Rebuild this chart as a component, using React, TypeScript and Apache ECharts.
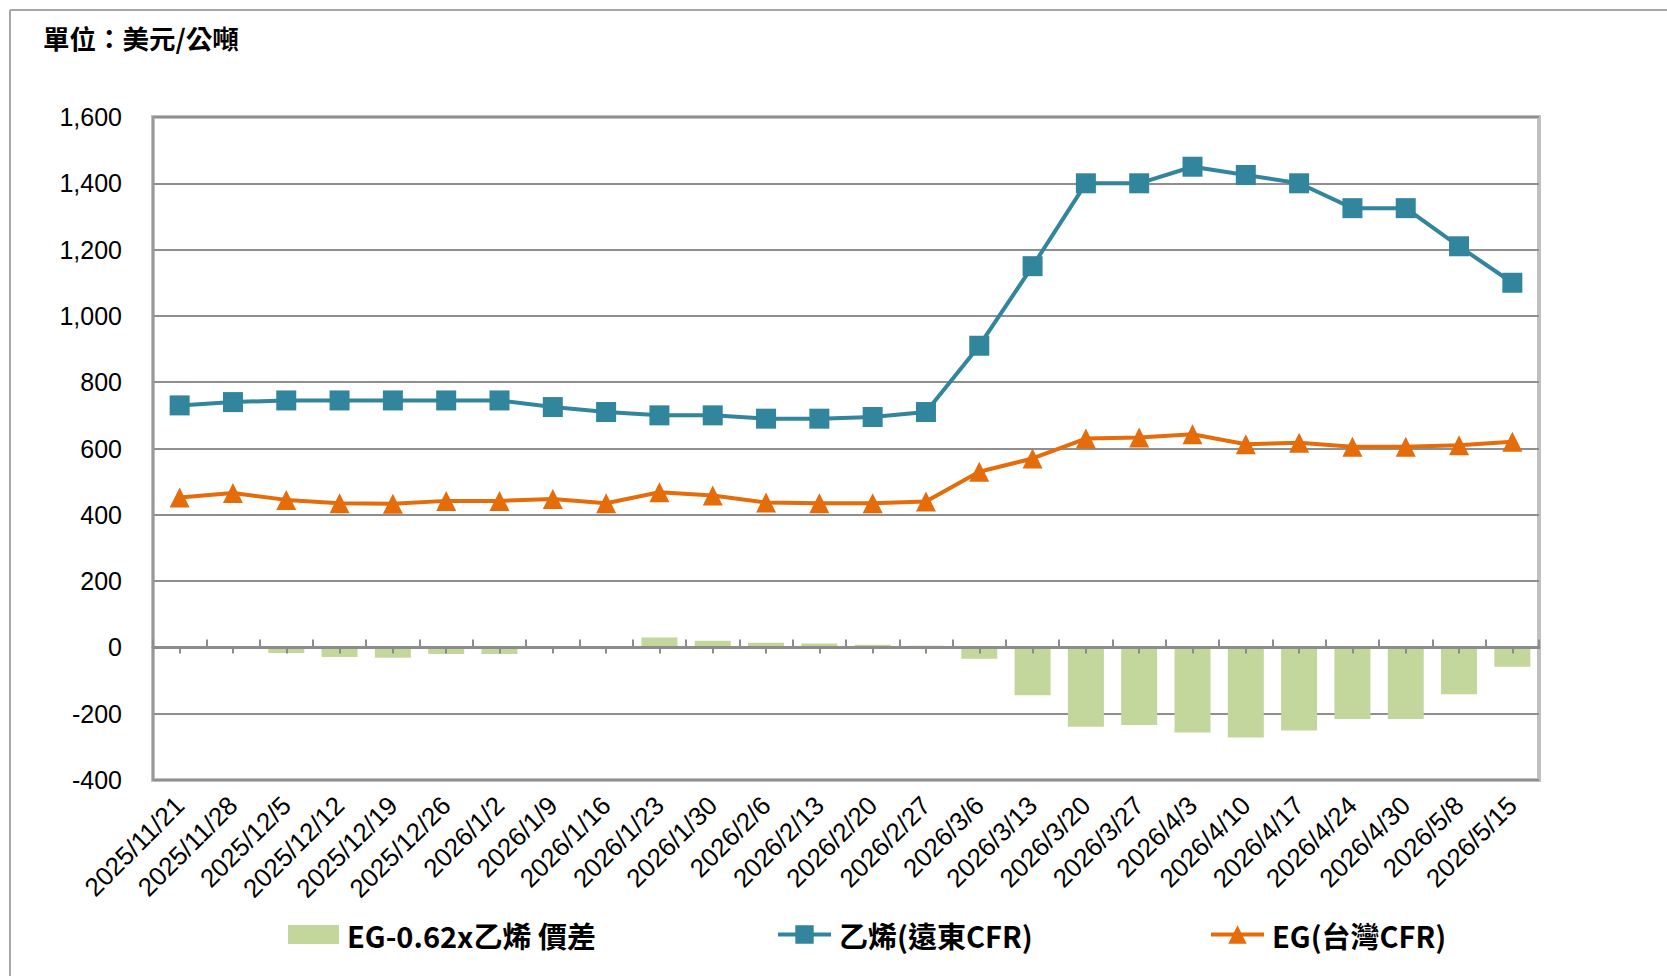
import React, { useEffect, useRef } from "react";
import * as echarts from "echarts";

const categories = [
  "2025/11/21", "2025/11/28", "2025/12/5", "2025/12/12", "2025/12/19", "2025/12/26",
  "2026/1/2", "2026/1/9", "2026/1/16", "2026/1/23", "2026/1/30", "2026/2/6",
  "2026/2/13", "2026/2/20", "2026/2/27", "2026/3/6", "2026/3/13", "2026/3/20",
  "2026/3/27", "2026/4/3", "2026/4/10", "2026/4/17", "2026/4/24", "2026/4/30",
  "2026/5/8", "2026/5/15",
];

const spreadName = "EG-0.62x乙烯 價差";
const ethyleneName = "乙烯(遠東CFR)";
const egName = "EG(台灣CFR)";

const spread = [
  0, 4, -17, -29, -31, -20, -20, 0, 0, 30, 20, 14, 12, 8, 5,
  -34, -144, -239, -234, -257, -272, -251, -216, -216, -141, -58,
];
const ethylene = [
  730, 740, 745, 745, 745, 745, 745, 725, 710, 700, 700, 690, 690, 695, 710,
  910, 1150, 1400, 1400, 1450, 1425, 1400, 1325, 1325, 1210, 1100,
];
const eg = [
  452, 466, 445, 435, 433, 442, 442, 448, 435, 468, 458, 437, 435, 435, 440,
  530, 570, 630, 633, 643, 613, 617, 605, 605, 610, 620,
];

const yMin = -400;
const yMax = 1600;
const yStep = 200;

const axisFont = "'Liberation Sans', Arial, sans-serif";
const cjkFont = "'Noto Sans CJK TC', 'Noto Sans CJK SC', sans-serif";

export default function App() {
  const ref = useRef<HTMLDivElement>(null);

  useEffect(() => {
    if (!ref.current) return;
    const chart = echarts.init(ref.current, null, { renderer: "svg" });
    const legendText = {
      fontSize: 29,
      fontWeight: "bold",
      fontFamily: cjkFont,
      color: "#000",
      padding: [0, 0, 0, 3],
    };
    chart.setOption({
      animation: false,
      backgroundColor: "#fff",
      title: {
        text: "單位：美元/公噸",
        left: 43,
        top: 24,
        padding: 0,
        textStyle: { fontSize: 26.5, fontWeight: "bold", fontFamily: cjkFont, color: "#000" },
      },
      graphic: [
        { type: "line", shape: { x1: 10, y1: 10, x2: 1667, y2: 10 }, style: { stroke: "#a6a6a6", lineWidth: 2 } },
        { type: "line", shape: { x1: 10, y1: 10, x2: 10, y2: 976 }, style: { stroke: "#a6a6a6", lineWidth: 2 } },
      ],
      grid: {
        left: 153,
        top: 117,
        right: 128,
        bottom: 196,
        show: true,
        borderColor: "#C0C0C0",
        borderWidth: 4,
        containLabel: false,
      },
      legend: [
        {
          data: [spreadName], left: 288, top: 920, padding: 0, itemWidth: 51, itemHeight: 19,
          icon: "rect", selectedMode: false, textStyle: legendText,
        },
        {
          data: [ethyleneName], left: 776, top: 920, padding: 0, itemWidth: 53, itemHeight: 23,
          selectedMode: false, textStyle: legendText, lineStyle: { width: 4 },
        },
        {
          data: [egName], left: 1209, top: 920, padding: 0, itemWidth: 53, itemHeight: 23,
          selectedMode: false, textStyle: legendText, lineStyle: { width: 4 },
        },
      ],
      xAxis: [
        {
          type: "category",
          data: categories,
          position: "bottom",
          axisLine: { show: false, onZero: false },
          axisTick: { show: false },
          splitLine: { show: false },
          axisLabel: {
            interval: 0,
            rotate: 45,
            margin: 21,
            fontSize: 26,
            fontFamily: axisFont,
            color: "#000",
          },
        },
        {
          type: "category",
          data: categories,
          position: "bottom",
          z: 4,
          axisLine: { show: true, onZero: true, onZeroAxisIndex: 0, lineStyle: { color: "#8c8c8c", width: 3 } },
          axisTick: { show: true, inside: true, length: 8, interval: 0, lineStyle: { color: "#8c8c8c", width: 2 } },
          axisLabel: { show: false },
          splitLine: { show: false },
        },
        {
          type: "category",
          data: categories,
          position: "bottom",
          z: 4,
          axisLine: { show: false, onZero: true, onZeroAxisIndex: 0 },
          axisTick: {
            show: true, alignWithLabel: true, inside: false, length: 6, interval: 0,
            lineStyle: { color: "#8c8c8c", width: 2 },
          },
          axisLabel: { show: false },
          splitLine: { show: false },
        },
      ],
      yAxis: {
        type: "value",
        min: yMin,
        max: yMax,
        interval: yStep,
        axisLine: { show: true, lineStyle: { color: "#999999", width: 2 } },
        axisTick: { show: false },
        splitLine: { show: true, lineStyle: { color: "#8f8f8f", width: 2 } },
        axisLabel: {
          fontSize: 25,
          fontFamily: axisFont,
          color: "#000",
          margin: 31,
          formatter: (v: number) => v.toLocaleString("en-US"),
        },
      },
      series: [
        {
          name: spreadName,
          type: "bar",
          xAxisIndex: 0,
          data: spread,
          barWidth: 36,
          itemStyle: { color: "#C3D69B" },
          z: 2,
        },
        {
          name: ethyleneName,
          type: "line",
          xAxisIndex: 0,
          data: ethylene,
          symbol: "rect",
          symbolSize: 20,
          lineStyle: { color: "#31859C", width: 4 },
          itemStyle: { color: "#31859C" },
          z: 5,
        },
        {
          name: egName,
          type: "line",
          xAxisIndex: 0,
          data: eg,
          symbol: "triangle",
          symbolSize: 20,
          lineStyle: { color: "#E46C0A", width: 4 },
          itemStyle: { color: "#E46C0A" },
          z: 5,
        },
      ],
    });
    return () => chart.dispose();
  }, []);

  return (
    <div
      ref={ref}
      style={{ position: "fixed", left: 0, top: 0, width: 1667, height: 976, background: "#fff" }}
    />
  );
}
